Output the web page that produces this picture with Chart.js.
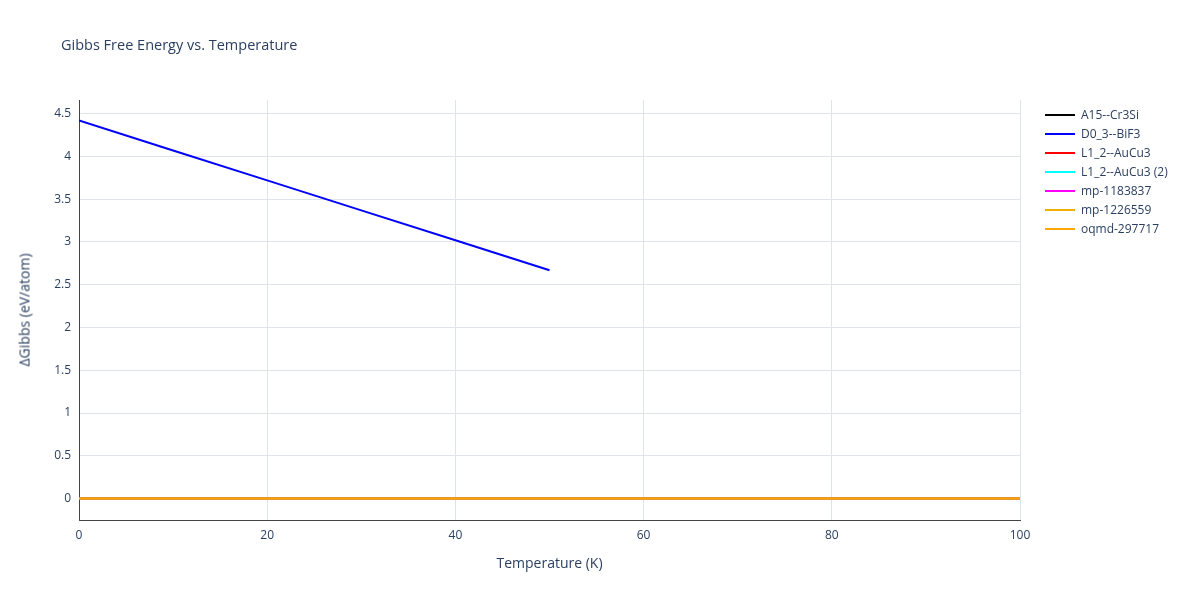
<!DOCTYPE html>
<html>
<head>
<meta charset="utf-8">
<script src="https://cdn.jsdelivr.net/npm/chart.js@4/dist/chart.umd.min.js"></script>
<style>
  body { margin: 0; background: #fff; font-family: "Open Sans", sans-serif; color: #2a3f5f; }
  #wrap { position: relative; width: 1200px; height: 600px; }
  #title { position: absolute; left: 61px; top: 35px; font-size: 14.5px; }
  #xtitle { position: absolute; left: 79px; width: 941px; top: 553px; text-align: center; font-size: 14px; }
  #ytitle { position: absolute; left: 24px; top: 310px; font-size: 14px; font-weight: normal; color: #2a3f5f; transform: translate(-50%, -50%) rotate(-90deg); white-space: nowrap; }
  #legend { position: absolute; left: 1045px; top: 105px; font-size: 12px; }
  .item { height: 19px; display: flex; align-items: center; }
  .swatch { width: 30px; height: 2px; margin-right: 6px; }
</style>
</head>
<body>
<div id="wrap">
  <canvas id="chart" width="1200" height="600"></canvas>
  <div id="title">Gibbs Free Energy vs. Temperature</div>
  <div id="xtitle">Temperature (K)</div>
  <div id="ytitle">ΔGibbs (eV/atom)</div>
  <div id="legend"></div>
</div>
<script>
// Series names and colours
const seriesNames = ['A15--Cr3Si', 'D0_3--BiF3', 'L1_2--AuCu3', 'L1_2--AuCu3 (2)', 'mp-1183837', 'mp-1226559', 'oqmd-297717'];
const seriesColors = ['#000000', '#0000ff', '#ff0000', '#00ffff', '#ff00ff', '#f0b000', '#ffa500'];

// Temperatures (K)
const tempsFull = [0, 10, 20, 30, 40, 50, 60, 70, 80, 90, 100];
const tempsBiF3 = [0, 10, 20, 30, 40, 50];

// ΔGibbs values (eV/atom)
const zeroValues = [0, 0, 0, 0, 0, 0, 0, 0, 0, 0, 0];
const bif3Values = [4.42, 4.07, 3.72, 3.37, 3.02, 2.67];

const xTicks = [0, 20, 40, 60, 80, 100];
const yTicks = [0, 0.5, 1, 1.5, 2, 2.5, 3, 3.5, 4, 4.5];

function toPoints(xs, ys) {
    return xs.map((x, i) => ({ x: x, y: ys[i] }));
}

// later series drawn on top (lower order = on top)
const datasets = seriesNames.map((name, i) => ({
    label: name,
    data: name === 'D0_3--BiF3' ? toPoints(tempsBiF3, bif3Values) : toPoints(tempsFull, zeroValues),
    borderColor: seriesColors[i],
    borderWidth: 2,
    pointRadius: 0,
    fill: false,
    tension: 0,
    order: seriesNames.length - i
}));

// HTML legend
const legend = document.getElementById('legend');
seriesNames.forEach((name, i) => {
    const row = document.createElement('div');
    row.className = 'item';
    row.innerHTML = '<span class="swatch" style="background:' + seriesColors[i] + '"></span>' + name;
    legend.appendChild(row);
});

const tickFont = { family: '"Open Sans", sans-serif', size: 12 };

new Chart(document.getElementById('chart'), {
    type: 'line',
    data: { datasets: datasets },
    options: {
        responsive: false,
        animation: false,
        layout: { padding: { left: 0, top: 100, right: 180, bottom: 0 } },
        plugins: { legend: { display: false }, tooltip: { enabled: false } },
        scales: {
            x: {
                type: 'linear',
                min: 0, max: 100,
                afterFit: s => { s.height = 80; },
                afterBuildTicks: s => { s.ticks = xTicks.map(v => ({ value: v })); },
                grid: { color: '#dfe3ea', drawTicks: false },
                border: { color: '#444', width: 1 },
                ticks: { color: '#2a3f5f', font: tickFont, padding: 8, maxRotation: 0 }
            },
            y: {
                type: 'linear',
                min: -0.25, max: 4.66,
                afterFit: s => { s.width = 79; },
                afterBuildTicks: s => { s.ticks = yTicks.map(v => ({ value: v })); },
                grid: { color: '#dfe3ea', drawTicks: false },
                border: { color: '#444', width: 1 },
                ticks: { color: '#2a3f5f', font: tickFont, padding: 8, callback: v => String(v) }
            }
        }
    }
});
</script>
</body>
</html>
